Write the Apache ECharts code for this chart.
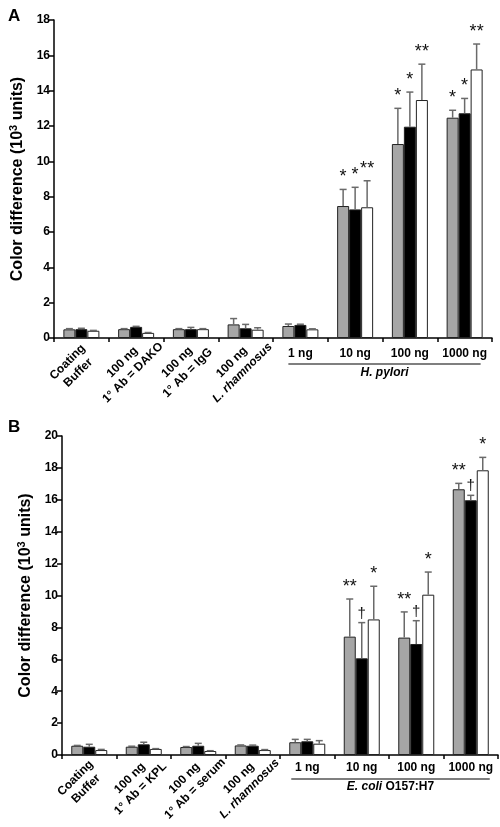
<!DOCTYPE html>
<html>
<head>
<meta charset="utf-8">
<script src="https://cdn.jsdelivr.net/npm/echarts@6/dist/echarts.min.js"></script>
<style>html,body{margin:0;padding:0;background:#fff}#c{width:500px;height:827px}</style>
</head>
<body>
<div id="c"></div>
<script>
// ---------- data ----------
const categoriesA = ['Coating\nBuffer', '100 ng\n1° Ab = DAKO', '100 ng\n1° Ab = IgG', '100 ng\n_L. rhamnosus', '1 ng', '10 ng', '100 ng', '1000 ng'];
const categoriesB = ['Coating\nBuffer', '100 ng\n1° Ab = KPL', '100 ng\n1° Ab = serum', '100 ng\n_L. rhamnosus', '1 ng', '10 ng', '100 ng', '1000 ng'];
const groupTitleA = 'H. pylori';
const groupTitleB = ['E. coli', ' O157:H7'];
const yTicksA = [0, 2, 4, 6, 8, 10, 12, 14, 16, 18];
const yTicksB = [0, 2, 4, 6, 8, 10, 12, 14, 16, 18, 20];

const aGrey     = [0.49, 0.50, 0.50, 0.77, 0.68, 7.47, 10.98, 12.47];
const aGreyErr  = [0.53, 0.53, 0.53, 1.10, 0.79, 8.41, 13.00, 12.89];
const aBlack    = [0.50, 0.63, 0.50, 0.55, 0.74, 7.28, 11.96, 12.72];
const aBlackErr = [0.55, 0.66, 0.60, 0.77, 0.78, 8.53, 13.92, 13.56];
const aWhite    = [0.41, 0.29, 0.50, 0.47, 0.49, 7.40, 13.47, 15.20];
const aWhiteErr = [0.43, 0.31, 0.53, 0.58, 0.52, 8.90, 15.50, 16.64];
const aAnnGrey  = ['', '', '', '', '', '*', '*', '*'];
const aAnnBlack = ['', '', '', '', '', '*', '*', '*'];
const aAnnWhite = ['', '', '', '', '', '**', '**', '**'];

const bGrey     = [0.58, 0.52, 0.50, 0.60, 0.80, 7.42, 7.36, 16.66];
const bGreyErr  = [0.60, 0.55, 0.53, 0.63, 0.98, 9.78, 8.97, 17.03];
const bBlack    = [0.52, 0.67, 0.58, 0.58, 0.86, 6.06, 6.96, 15.97];
const bBlackErr = [0.67, 0.80, 0.73, 0.62, 0.98, 8.30, 8.42, 16.28];
const bWhite    = [0.31, 0.38, 0.25, 0.31, 0.71, 8.50, 10.05, 17.85];
const bWhiteErr = [0.35, 0.40, 0.27, 0.34, 0.90, 10.58, 11.47, 18.66];
const bAnnGrey  = ['', '', '', '', '', '**', '**', '**'];
const bAnnBlack = ['', '', '', '', '', '†', '†', '†'];
const bAnnWhite = ['', '', '', '', '', '*', '*', '*'];

// ---------- style ----------
const FONT = '"Liberation Sans", Arial, sans-serif';
const COLORS = ['#a6a6a6', '#000000', '#ffffff'];
const BAR_W = 12;
const ERR_COLOR = '#6a6a6a';

const chart = echarts.init(document.getElementById('c'), null, {renderer: 'canvas'});

function rotLabel(value, idx) {
  if (idx >= 4) return '';
  return value.split('\n').map(function (l) {
    if (l.charAt(0) === '_') return '{ci|' + l.slice(1) + '}';
    return '{c|' + l + '}';
  }).join('\n');
}
function flatLabel(value, idx) { return idx >= 4 ? value : ''; }

function makeXAxes(gridIndex, cats, rotMargin, flatMargin) {
  return [
    {
      type: 'category', gridIndex: gridIndex, data: cats, position: 'bottom',
      axisLine: {lineStyle: {color: '#000', width: 1.5}},
      axisTick: {show: true, alignWithLabel: false, length: 4, lineStyle: {color: '#000', width: 1.5}},
      axisLabel: {
        interval: 0, rotate: 45, margin: rotMargin, formatter: rotLabel,
        align: 'center', verticalAlign: 'middle', padding: [0, 24, 0, 0],
        rich: {
          c: {fontFamily: FONT, fontWeight: 'bold', fontSize: 12, color: '#000', align: 'center', lineHeight: 15},
          ci: {fontFamily: FONT, fontWeight: 'bold', fontStyle: 'italic', fontSize: 12, color: '#000', align: 'center', lineHeight: 15}
        }
      },
      splitLine: {show: false}
    },
    {
      type: 'category', gridIndex: gridIndex, data: cats, position: 'bottom',
      axisLine: {show: false}, axisTick: {show: false},
      axisLabel: {interval: 0, margin: flatMargin, formatter: flatLabel,
        fontFamily: FONT, fontWeight: 'bold', fontSize: 12, color: '#000'},
      splitLine: {show: false}
    }
  ];
}

function makeYAxis(gridIndex, ticks) {
  return {
    type: 'value', gridIndex: gridIndex, min: ticks[0], max: ticks[ticks.length - 1],
    interval: ticks[1] - ticks[0],
    axisLine: {show: true, lineStyle: {color: '#000', width: 1.5}},
    axisTick: {show: true, length: 5, lineStyle: {color: '#000', width: 1.5}},
    axisLabel: {margin: 4, fontFamily: FONT, fontWeight: 'bold', fontSize: 12, color: '#000'},
    splitLine: {show: false},
    name: '{t|Color difference (10}{s|3}{t| units)}',
    nameLocation: 'middle', nameGap: 26, nameRotate: 90,
    nameTextStyle: {
      rich: {
        t: {fontFamily: FONT, fontWeight: 'bold', fontSize: 16, color: '#000'},
        s: {fontFamily: FONT, fontWeight: 'bold', fontSize: 11, color: '#000', verticalAlign: 'top', padding: [0, 0, 8, 0]}
      }
    }
  };
}

function barSeries(xIdx, yIdx, values, color) {
  return {
    type: 'bar', xAxisIndex: xIdx, yAxisIndex: yIdx, data: values,
    barWidth: BAR_W, barGap: '0%',
    itemStyle: {color: color, borderColor: '#222', borderWidth: 1},
    silent: true, z: 2
  };
}

function errSeries(xIdx, yIdx, values, errs, anns, pos) {
  const data = values.map(function (v, i) { return [i, v, errs[i]]; });
  return {
    type: 'custom', xAxisIndex: xIdx, yAxisIndex: yIdx, data: data, z: 3, silent: true,
    encode: {x: 0, y: 1},
    renderItem: function (params, api) {
      const i = api.value(0);
      const top = api.coord([i, api.value(1)]);
      const errTop = api.coord([i, api.value(2)]);
      const x = top[0] + pos * BAR_W;
      const children = [
        {type: 'line', shape: {x1: x, y1: top[1], x2: x, y2: errTop[1]}, style: {stroke: ERR_COLOR, lineWidth: 1.5}},
        {type: 'line', shape: {x1: x - 3.5, y1: errTop[1], x2: x + 3.5, y2: errTop[1]}, style: {stroke: ERR_COLOR, lineWidth: 1.5}}
      ];
      const ann = anns[params.dataIndex];
      if (ann) {
        const isDagger = ann === '†';
        children.push({
          type: 'text',
          style: {
            text: ann, x: x, y: errTop[1] - (isDagger ? 9 : 12),
            align: 'center', verticalAlign: 'middle',
            font: (isDagger ? 'normal 15px ' : 'normal 18px ') + FONT,
            fill: '#111'
          }
        });
      }
      return {type: 'group', children: children};
    }
  };
}

const option = {
  animation: false,
  backgroundColor: '#ffffff',
  title: [
    {text: 'A', left: 3, top: 3, textStyle: {fontFamily: FONT, fontWeight: 'bold', fontSize: 17, color: '#000'}},
    {text: 'B', left: 3, top: 414, textStyle: {fontFamily: FONT, fontWeight: 'bold', fontSize: 17, color: '#000'}}
  ],
  grid: [
    {left: 54, right: 8, top: 20, bottom: 489},
    {left: 62, right: 2, top: 436, bottom: 72}
  ],
  xAxis: makeXAxes(0, categoriesA, 21, 10).concat(makeXAxes(1, categoriesB, 20, 7)),
  yAxis: [makeYAxis(0, yTicksA), makeYAxis(1, yTicksB)],
  series: [
    barSeries(0, 0, aGrey, COLORS[0]),
    barSeries(0, 0, aBlack, COLORS[1]),
    barSeries(0, 0, aWhite, COLORS[2]),
    errSeries(0, 0, aGrey, aGreyErr, aAnnGrey, -1),
    errSeries(0, 0, aBlack, aBlackErr, aAnnBlack, 0),
    errSeries(0, 0, aWhite, aWhiteErr, aAnnWhite, 1),
    barSeries(2, 1, bGrey, COLORS[0]),
    barSeries(2, 1, bBlack, COLORS[1]),
    barSeries(2, 1, bWhite, COLORS[2]),
    errSeries(2, 1, bGrey, bGreyErr, bAnnGrey, -1),
    errSeries(2, 1, bBlack, bBlackErr, bAnnBlack, 0),
    errSeries(2, 1, bWhite, bWhiteErr, bAnnWhite, 1)
  ]
};
chart.setOption(option);

// group underline + group title, positioned from the axes
function groupDecor(xIdx, yIdx, cats, titleRich, lineDy, titleDy, padL, padR) {
  const p4 = chart.convertToPixel({xAxisIndex: xIdx, yAxisIndex: yIdx}, [cats[4], 0]);
  const p7 = chart.convertToPixel({xAxisIndex: xIdx, yAxisIndex: yIdx}, [cats[7], 0]);
  const x1 = p4[0] - padL, x2 = p7[0] + padR, y = p4[1];
  return [
    {type: 'line', shape: {x1: x1, y1: y + lineDy, x2: x2, y2: y + lineDy}, style: {stroke: '#000', lineWidth: 1.2}, silent: true},
    {type: 'text', x: (x1 + x2) / 2, y: y + titleDy, silent: true,
      style: {text: titleRich, align: 'center', verticalAlign: 'middle',
        rich: {
          i: {fontFamily: FONT, fontWeight: 'bold', fontStyle: 'italic', fontSize: 12, fill: '#000'},
          n: {fontFamily: FONT, fontWeight: 'bold', fontSize: 12, fill: '#000'}
        }}}
  ];
}
chart.setOption({
  graphic: groupDecor(0, 0, categoriesA, '{i|' + groupTitleA + '}', 26, 35, 12, 16)
    .concat(groupDecor(2, 1, categoriesB, '{i|' + groupTitleB[0] + '}{n|' + groupTitleB[1] + '}', 24, 32, 16, 19))
});
</script>
</body>
</html>
